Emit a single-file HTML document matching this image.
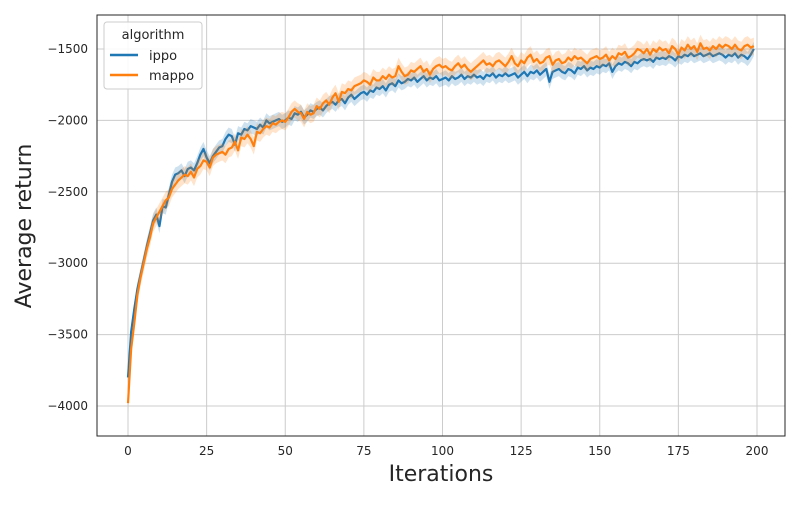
<!DOCTYPE html>
<html><head><meta charset="utf-8"><style>
body{margin:0;background:#fff;font-family:"Liberation Sans","DejaVu Sans",sans-serif}
svg text{font-family:"DejaVu Sans","Liberation Sans",sans-serif;fill:#262626}
</style></head><body>
<svg id="chart" width="800" height="500" xmlns="http://www.w3.org/2000/svg">
<rect width="800" height="500" fill="#fff"/>
<g id="grid"></g>
<g id="series"></g>
<rect x="97" y="15" width="688" height="421" fill="none" stroke="#262626" stroke-width="1"/>
<g id="ticks"></g>
<text x="441" y="481" text-anchor="middle" font-size="22">Iterations</text>
<text transform="translate(31,226) rotate(-90)" text-anchor="middle" font-size="22">Average return</text>
<g>
<rect x="104" y="22" width="98" height="67" rx="3" fill="#fff" fill-opacity="0.85" stroke="#ccc"/>
<text x="153" y="39" text-anchor="middle" font-size="13">algorithm</text>
<line x1="110" y1="55" x2="138" y2="55" stroke="#1f77b4" stroke-width="2.5"/>
<text x="149" y="60" font-size="13">ippo</text>
<line x1="110" y1="75" x2="138" y2="75" stroke="#ff7f0e" stroke-width="2.5"/>
<text x="149" y="80" font-size="13">mappo</text>
</g>
</svg>
<script>
const xTicks=[0,25,50,75,100,125,150,175,200];
const yTicks=[-4000,-3500,-3000,-2500,-2000,-1500];
const ippo=[-3800,-3480,-3320,-3180,-3080,-2980,-2880,-2790,-2700,-2660,
-2740,-2600,-2610,-2520,-2430,-2380,-2370,-2350,-2390,-2340,
-2330,-2350,-2300,-2240,-2200,-2260,-2300,-2250,-2220,-2190,
-2180,-2130,-2100,-2110,-2170,-2090,-2100,-2060,-2070,-2040,
-2050,-2060,-2030,-2050,-2000,-2020,-2010,-2000,-1990,-2010,
-2000,-1980,-1990,-1950,-1960,-1940,-1980,-1960,-1930,-1940,
-1920,-1910,-1930,-1900,-1880,-1870,-1890,-1860,-1850,-1880,
-1840,-1820,-1850,-1830,-1810,-1800,-1820,-1790,-1800,-1770,
-1780,-1760,-1790,-1750,-1740,-1760,-1720,-1740,-1730,-1710,
-1720,-1700,-1730,-1710,-1690,-1720,-1700,-1710,-1690,-1720,
-1710,-1700,-1720,-1690,-1710,-1700,-1680,-1710,-1690,-1700,
-1680,-1700,-1690,-1710,-1680,-1690,-1670,-1700,-1680,-1690,
-1670,-1690,-1680,-1670,-1700,-1680,-1660,-1690,-1660,-1670,
-1650,-1680,-1660,-1640,-1730,-1660,-1650,-1640,-1660,-1670,
-1640,-1650,-1670,-1630,-1640,-1620,-1650,-1630,-1640,-1620,
-1630,-1610,-1620,-1600,-1660,-1620,-1600,-1610,-1590,-1600,
-1620,-1590,-1600,-1580,-1570,-1580,-1570,-1590,-1560,-1570,
-1560,-1570,-1550,-1560,-1580,-1550,-1560,-1540,-1550,-1530,
-1550,-1540,-1530,-1550,-1540,-1530,-1550,-1540,-1530,-1540,
-1560,-1540,-1550,-1530,-1560,-1540,-1550,-1570,-1540,-1500];
const mappo=[-3980,-3600,-3420,-3220,-3100,-3000,-2900,-2820,-2720,-2680,
-2640,-2600,-2560,-2540,-2480,-2450,-2420,-2400,-2380,-2390,
-2360,-2400,-2340,-2320,-2280,-2290,-2330,-2260,-2240,-2230,
-2220,-2240,-2200,-2190,-2150,-2210,-2120,-2130,-2100,-2130,
-2180,-2080,-2090,-2060,-2040,-2050,-2020,-2030,-2010,-2000,
-2010,-1980,-1940,-1920,-1940,-1950,-1990,-1940,-1960,-1950,
-1900,-1920,-1880,-1860,-1890,-1840,-1810,-1870,-1800,-1810,
-1780,-1790,-1760,-1750,-1740,-1720,-1730,-1750,-1700,-1720,
-1720,-1690,-1710,-1680,-1700,-1690,-1620,-1660,-1690,-1680,
-1650,-1660,-1640,-1620,-1660,-1640,-1680,-1640,-1620,-1610,
-1630,-1620,-1640,-1650,-1620,-1600,-1630,-1610,-1640,-1660,
-1640,-1620,-1600,-1580,-1610,-1600,-1620,-1590,-1580,-1600,
-1620,-1590,-1550,-1600,-1620,-1580,-1600,-1560,-1540,-1590,
-1570,-1600,-1590,-1560,-1550,-1610,-1580,-1570,-1600,-1590,
-1560,-1580,-1550,-1570,-1560,-1580,-1600,-1570,-1560,-1550,
-1570,-1560,-1540,-1580,-1550,-1570,-1530,-1540,-1520,-1560,
-1550,-1530,-1500,-1510,-1530,-1500,-1540,-1500,-1520,-1490,
-1510,-1500,-1530,-1480,-1500,-1540,-1490,-1510,-1470,-1500,
-1480,-1520,-1460,-1500,-1490,-1510,-1480,-1500,-1470,-1490,
-1470,-1480,-1500,-1470,-1500,-1510,-1480,-1470,-1490,-1480];
const ippoErr=50, mappoErr=60;
const NS='http://www.w3.org/2000/svg';
const X=v=>128+v*(757-128)/200;
const Y=v=>49+(v+1500)*(406-49)/(-2500);
function mk(tag,attrs,parent){const e=document.createElementNS(NS,tag);for(const k in attrs)e.setAttribute(k,attrs[k]);parent.appendChild(e);return e;}
const grid=document.getElementById('grid'),ticks=document.getElementById('ticks'),ser=document.getElementById('series');
xTicks.forEach(t=>{
 const l=mk('line',{x1:X(t),x2:X(t),y1:15,y2:436,stroke:'#cccccc','stroke-width':1},grid);
 
 
 const tx=mk('text',{x:X(t),y:455,'text-anchor':'middle','font-size':12},ticks);
 tx.textContent=t;
 
 
});
yTicks.forEach(t=>{
 const l=mk('line',{x1:97,x2:785,y1:Y(t),y2:Y(t),stroke:'#cccccc','stroke-width':1},grid);
 
 
 const tx=mk('text',{x:88,y:Y(t)+4,'text-anchor':'end','font-size':12},ticks);
 tx.textContent='\u2212'+Math.abs(t);
 
 
});
function draw(data,err,color,name){
 let up='',dn='';
 data.forEach((v,i)=>{up+=(i?'L':'M')+X(i)+','+Y(v+err);});
 for(let i=data.length-1;i>=0;i--)dn+='L'+X(i)+','+Y(data[i]-err);
 const b=mk('path',{d:up+dn+'Z',fill:color,'fill-opacity':0.22,stroke:'none'},ser);
 
 
 let d='';data.forEach((v,i)=>{d+=(i?'L':'M')+X(i)+','+Y(v);});
 const p=mk('path',{d:d,fill:'none',stroke:color,'stroke-width':2.2,'stroke-linejoin':'round'},ser);
 
 
}
draw(ippo,ippoErr,'#1f77b4','ippo');
draw(mappo,mappoErr,'#ff7f0e','mappo');
</script>
</body></html>
